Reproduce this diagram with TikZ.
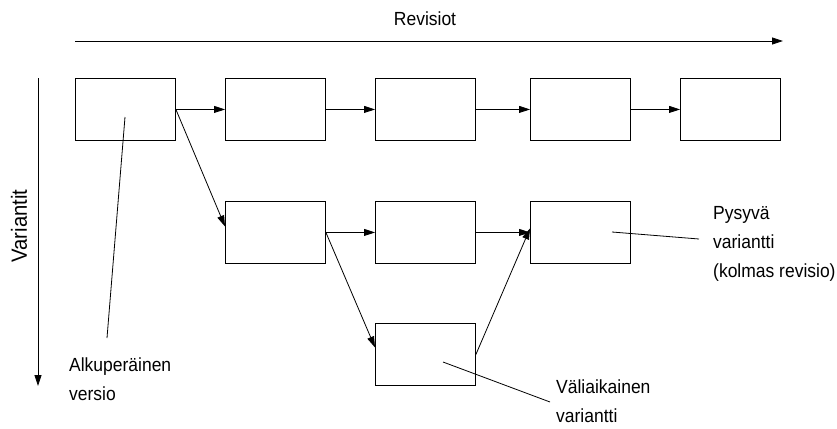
\documentclass[tikz,border=0pt]{standalone}
\usepackage{fontspec}
\setmainfont[FakeStretch=0.92]{Liberation Sans}
\usetikzlibrary{arrows.meta}
\begin{document}
\begin{tikzpicture}[x=1pt,y=-1pt,
  box/.style={draw,line width=0.9pt,minimum width=100pt,minimum height=62pt,inner sep=0pt,anchor=north west},
  conn/.style={line width=0.8pt,-{Triangle[length=11pt,width=7pt]}},
  leader/.style={line width=0.8pt},
  lbl/.style={inner sep=0pt,anchor=base west},
  every node/.append style={font=\fontsize{19}{29}\selectfont}]
\useasboundingbox (0,0) rectangle (837,428);
% axes
\coordinate (hs) at (75,41);
\coordinate (he) at (783,41);
\coordinate (vs) at (38,78);
\coordinate (ve) at (38,386);
\draw[conn] (hs) -- (he);
\draw[conn] (vs) -- (ve);
\node[inner sep=0pt,anchor=base] (rev) at (425,26) {Revisiot};
\node[inner sep=0pt,anchor=base,rotate=90,font=\fontsize{22}{29}\selectfont] (var) at (27,226) {Variantit};
% top row
\node[box] (a1) at (75,78) {};
\node[box] (a2) at (225,78) {};
\node[box] (a3) at (375,78) {};
\node[box] (a4) at (530,78) {};
\node[box] (a5) at (680,78) {};
% second row
\node[box] (b1) at (225,201) {};
\node[box] (b2) at (375,201) {};
\node[box] (b3) at (530,201) {};
% bottom
\node[box] (c1) at (375,323) {};
% connectors
\draw[conn] (a1.east) -- (a2.west);
\draw[conn] (a2.east) -- (a3.west);
\draw[conn] (a3.east) -- (a4.west);
\draw[conn] (a4.east) -- (a5.west);
\draw[conn] (a1.east) -- ([yshift=6pt]b1.west);
\draw[conn] (b1.east) -- (b2.west);
\draw[conn] (b2.east) -- (b3.west);
\draw[conn] (b1.east) -- ([yshift=7pt]c1.west);
\draw[conn] (c1.east) -- ([yshift=4pt]b3.west);
% labels
\node[lbl] (l1) at (69,371) {\begin{tabular}[t]{@{}l@{}}Alkuperäinen\\versio\end{tabular}};
\node[lbl] (l2) at (713,219) {\begin{tabular}[t]{@{}l@{}}Pysyvä\\variantti\\(kolmas revisio)\end{tabular}};
\node[lbl] (l3) at (556,393) {\begin{tabular}[t]{@{}l@{}}Väliaikainen\\variantti\end{tabular}};
% leader lines
\coordinate (p1) at (125,117);
\coordinate (q1) at (107,338);
\coordinate (p2) at (612,232);
\coordinate (q2) at (699,239);
\coordinate (p3) at (443,362);
\coordinate (q3) at (550,402);
\draw[leader] (p1) -- (q1);
\draw[leader] (p2) -- (q2);
\draw[leader] (p3) -- (q3);
\end{tikzpicture}
\end{document}
